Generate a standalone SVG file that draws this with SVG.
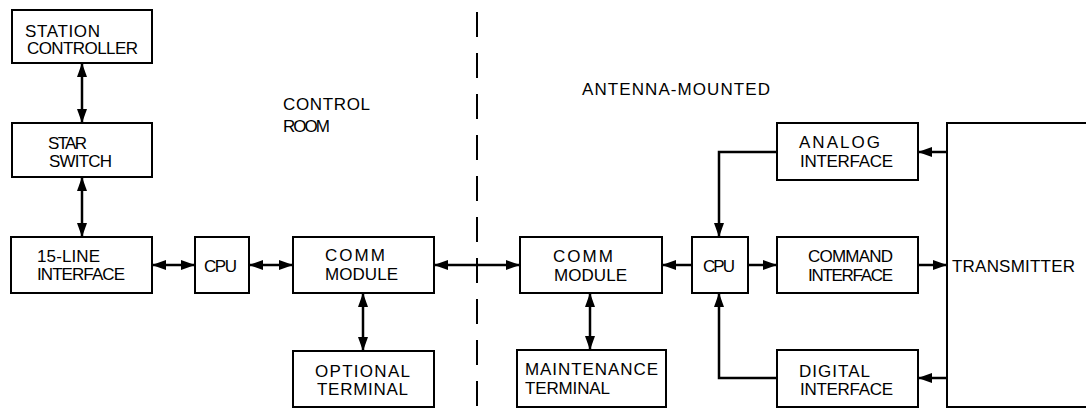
<svg xmlns="http://www.w3.org/2000/svg" width="1086" height="410" viewBox="0 0 1086 410">
<style>
.box{fill:#fff;stroke:#000;stroke-width:2}
.t{font-family:"Liberation Sans",Arial,sans-serif;font-size:17px;fill:#000}
.c{fill:none;stroke:#000;stroke-width:2.5}
.d{fill:none;stroke:#000;stroke-width:2;stroke-dasharray:25 16}
</style>
<defs>
<marker id="ah" markerUnits="userSpaceOnUse" markerWidth="16" markerHeight="12" refX="14" refY="5" orient="auto-start-reverse">
<path d="M0,0 L14,5 L0,10 z" fill="#000"/>
</marker>
</defs>
<rect width="1086" height="410" fill="#fff"/>
<line class="d" x1="477" y1="12" x2="477" y2="408"/>
<g id="labels">
<text class="t" x="283" y="110" textLength="87" lengthAdjust="spacing">CONTROL</text>
<text class="t" x="283" y="132" textLength="47" lengthAdjust="spacing">ROOM</text>
<text class="t" x="582" y="95" textLength="188" lengthAdjust="spacing">ANTENNA-MOUNTED</text>
</g>
<g id="connectors">
<line class="c" x1="82" y1="63" x2="82" y2="123" marker-start="url(#ah)" marker-end="url(#ah)"/>
<line class="c" x1="82" y1="177" x2="82" y2="237" marker-start="url(#ah)" marker-end="url(#ah)"/>
<line class="c" x1="152" y1="265" x2="195" y2="265" marker-start="url(#ah)" marker-end="url(#ah)"/>
<line class="c" x1="249" y1="265" x2="293" y2="265" marker-start="url(#ah)" marker-end="url(#ah)"/>
<line class="c" x1="434" y1="265" x2="520" y2="265" marker-start="url(#ah)" marker-end="url(#ah)"/>
<line class="c" x1="363" y1="293" x2="363" y2="351" marker-start="url(#ah)" marker-end="url(#ah)"/>
<line class="c" x1="692" y1="265" x2="662" y2="265" marker-end="url(#ah)"/>
<line class="c" x1="590" y1="293" x2="590" y2="350" marker-start="url(#ah)" marker-end="url(#ah)"/>
<line class="c" x1="748" y1="265" x2="777" y2="265" marker-end="url(#ah)"/>
<line class="c" x1="918" y1="265" x2="947" y2="265" marker-end="url(#ah)"/>
<line class="c" x1="947" y1="152" x2="918" y2="152" marker-end="url(#ah)"/>
<path class="c" d="M777,152 H719 V237" marker-end="url(#ah)"/>
<line class="c" x1="947" y1="378" x2="918" y2="378" marker-end="url(#ah)"/>
<path class="c" d="M777,378 H719 V293" marker-end="url(#ah)"/>
</g>
<g id="station-controller">
<rect class="box" x="12" y="10" width="140" height="53"/>
<text class="t" x="25" y="37" textLength="75" lengthAdjust="spacing">STATION</text>
<text class="t" x="27" y="54" textLength="111" lengthAdjust="spacing">CONTROLLER</text>
</g>
<g id="star-switch">
<rect class="box" x="12" y="123" width="140" height="54"/>
<text class="t" x="48" y="149" textLength="39" lengthAdjust="spacing">STAR</text>
<text class="t" x="49" y="167" textLength="63" lengthAdjust="spacing">SWITCH</text>
</g>
<g id="line-interface">
<rect class="box" x="11" y="237" width="141" height="56"/>
<text class="t" x="37" y="262" textLength="63" lengthAdjust="spacing">15-LINE</text>
<text class="t" x="37" y="280" textLength="88" lengthAdjust="spacing">INTERFACE</text>
</g>
<g id="cpu-left">
<rect class="box" x="195" y="237" width="54" height="56"/>
<text class="t" x="204" y="272" textLength="33" lengthAdjust="spacing">CPU</text>
</g>
<g id="comm-left">
<rect class="box" x="293" y="237" width="141" height="56"/>
<text class="t" x="325" y="261" textLength="60" lengthAdjust="spacing">COMM</text>
<text class="t" x="325" y="280" textLength="73" lengthAdjust="spacing">MODULE</text>
</g>
<g id="optional-terminal">
<rect class="box" x="293" y="351" width="141" height="56"/>
<text class="t" x="315" y="377" textLength="95" lengthAdjust="spacing">OPTIONAL</text>
<text class="t" x="317" y="395" textLength="91" lengthAdjust="spacing">TERMINAL</text>
</g>
<g id="comm-right">
<rect class="box" x="520" y="237" width="142" height="56"/>
<text class="t" x="553" y="262" textLength="60" lengthAdjust="spacing">COMM</text>
<text class="t" x="554" y="281" textLength="73" lengthAdjust="spacing">MODULE</text>
</g>
<g id="cpu-right">
<rect class="box" x="692" y="237" width="56" height="56"/>
<text class="t" x="703" y="272" textLength="32" lengthAdjust="spacing">CPU</text>
</g>
<g id="maintenance-terminal">
<rect class="box" x="517" y="350" width="149" height="57"/>
<text class="t" x="525" y="375" textLength="133" lengthAdjust="spacing">MAINTENANCE</text>
<text class="t" x="525" y="394" textLength="85" lengthAdjust="spacing">TERMINAL</text>
</g>
<g id="analog-interface">
<rect class="box" x="777" y="123" width="141" height="57"/>
<text class="t" x="799" y="148" textLength="81" lengthAdjust="spacing">ANALOG</text>
<text class="t" x="800" y="167" textLength="93" lengthAdjust="spacing">INTERFACE</text>
</g>
<g id="command-interface">
<rect class="box" x="777" y="237" width="141" height="56"/>
<text class="t" x="808" y="262" textLength="85" lengthAdjust="spacing">COMMAND</text>
<text class="t" x="808" y="281" textLength="85" lengthAdjust="spacing">INTERFACE</text>
</g>
<g id="digital-interface">
<rect class="box" x="777" y="350" width="141" height="57"/>
<text class="t" x="799" y="377" textLength="71" lengthAdjust="spacing">DIGITAL</text>
<text class="t" x="800" y="395" textLength="93" lengthAdjust="spacing">INTERFACE</text>
</g>
<g id="transmitter">
<rect class="box" x="947" y="123" width="160" height="284"/>
<text class="t" x="952" y="272" textLength="123" lengthAdjust="spacing">TRANSMITTER</text>
</g>
</svg>
